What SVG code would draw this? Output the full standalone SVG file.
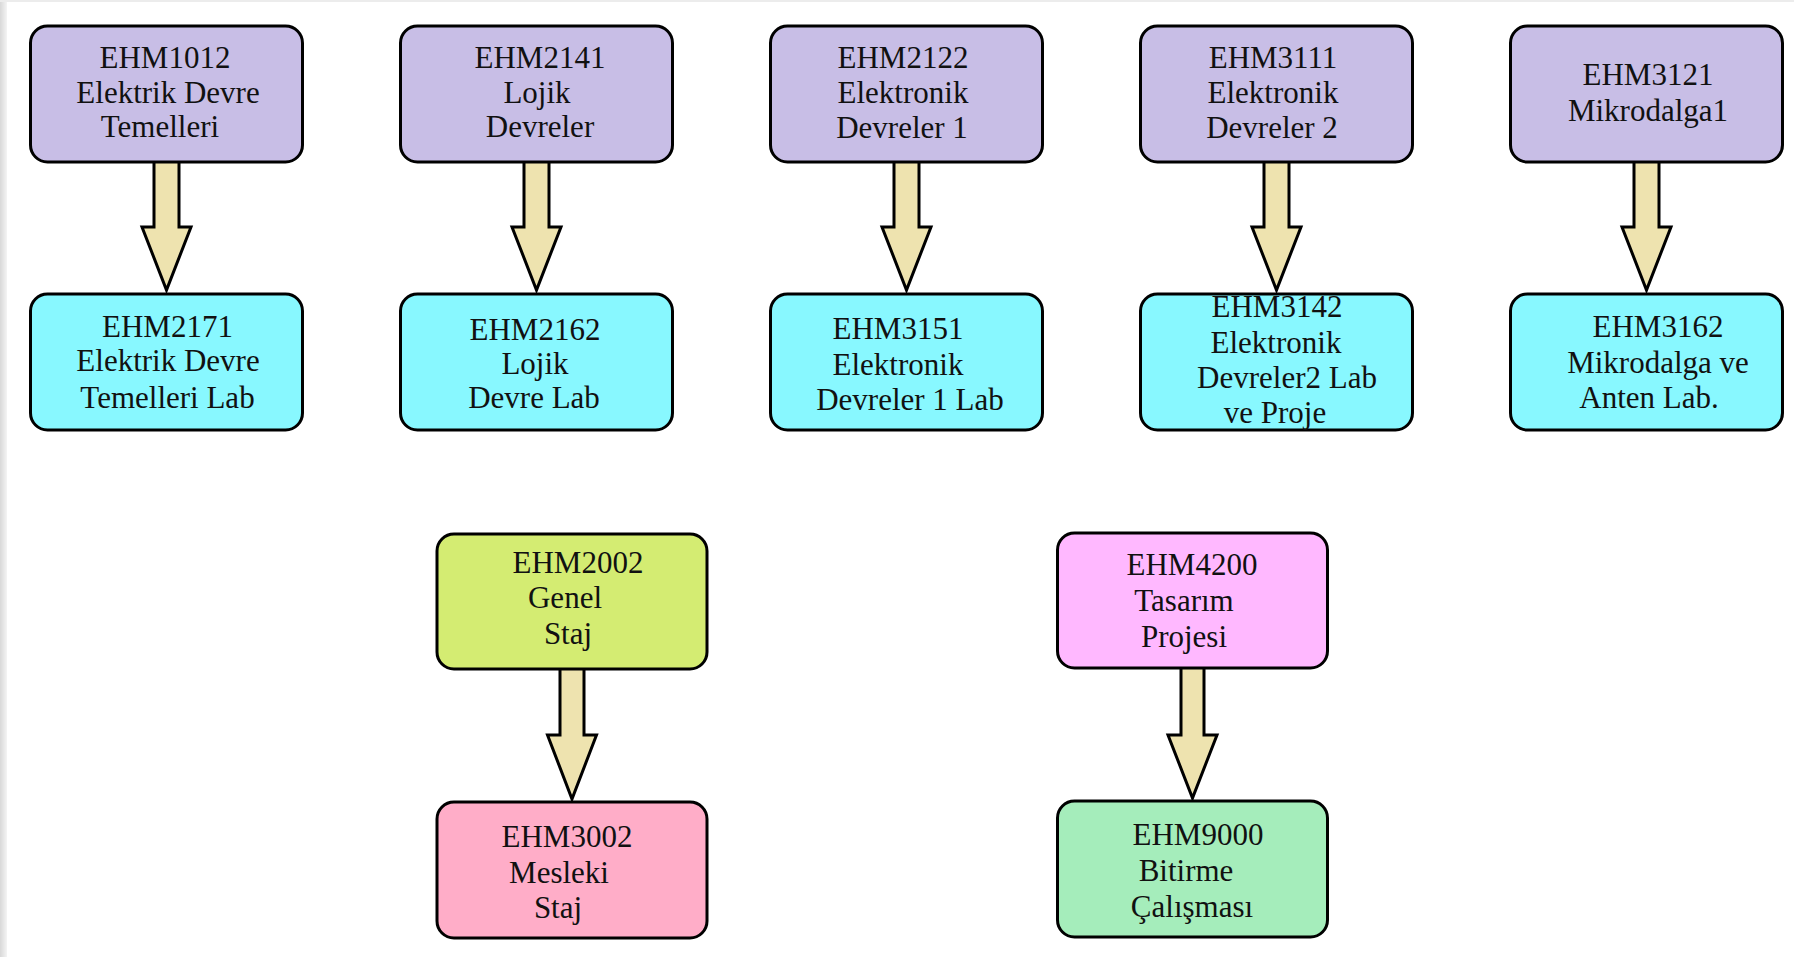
<svg xmlns="http://www.w3.org/2000/svg" width="1794" height="957" viewBox="0 0 1794 957">
<defs>
<linearGradient id="edge" x1="0" y1="0" x2="1" y2="0">
<stop offset="0" stop-color="#d8d8d8"/>
<stop offset="1" stop-color="#f4f4f4"/>
</linearGradient>
</defs>
<style>
.box{stroke:#000;stroke-width:3}
.lav{fill:#C8BEE6}.cyan{fill:#88F8FF}.yg{fill:#D4EC72}.pink{fill:#FFADC8}.mag{fill:#FFB8FF}.mint{fill:#A5EDBB}
.arr{fill:#EEE3AF;stroke:#000;stroke-width:3;stroke-linejoin:miter}
text{font-family:"Liberation Serif","Times New Roman",serif;font-size:31px;fill:#111;text-anchor:middle}
</style>
<rect x="0" y="0" width="1794" height="957" fill="#fff"/>
<rect x="0" y="0" width="7" height="957" fill="url(#edge)"/>
<rect x="0" y="0" width="1794" height="2" fill="#ececec"/>
<g id="connectors">
<polygon class="arr" points="154,160 179,160 179,227 191,227 166.5,290 142,227 154,227"/>
<polygon class="arr" points="524,160 549,160 549,227 561,227 536.5,290 512,227 524,227"/>
<polygon class="arr" points="894,160 919,160 919,227 931,227 906.5,290 882,227 894,227"/>
<polygon class="arr" points="1264,160 1289,160 1289,227 1301,227 1276.5,290 1252,227 1264,227"/>
<polygon class="arr" points="1634,160 1659,160 1659,227 1671,227 1646.5,290 1622,227 1634,227"/>
<polygon class="arr" points="560,667 584,667 584,735 596.5,735 572,799 547.5,735 560,735"/>
<polygon class="arr" points="1181,666 1204,666 1204,735 1217,735 1192.5,798 1168,735 1181,735"/>
</g>
<g id="n_ehm1012"><rect class="box lav" x="30.5" y="26" width="272" height="136" rx="17"/>
<text x="165" y="68">EHM1012</text><text x="168" y="103">Elektrik Devre</text><text x="160" y="137">Temelleri</text></g>
<g id="n_ehm2141"><rect class="box lav" x="400.5" y="26" width="272" height="136" rx="17"/>
<text x="540" y="68">EHM2141</text><text x="537" y="103">Lojik</text><text x="540" y="137">Devreler</text></g>
<g id="n_ehm2122"><rect class="box lav" x="770.5" y="26" width="272" height="136" rx="17"/>
<text x="903" y="68">EHM2122</text><text x="903" y="103">Elektronik</text><text x="902" y="138">Devreler 1</text></g>
<g id="n_ehm3111"><rect class="box lav" x="1140.5" y="26" width="272" height="136" rx="17"/>
<text x="1273" y="68">EHM3111</text><text x="1273" y="103">Elektronik</text><text x="1272" y="138">Devreler 2</text></g>
<g id="n_ehm3121"><rect class="box lav" x="1510.5" y="26" width="272" height="136" rx="17"/>
<text x="1648" y="85">EHM3121</text><text x="1648" y="121">Mikrodalga1</text></g>
<g id="n_ehm2171"><rect class="box cyan" x="30.5" y="294" width="272" height="136" rx="17"/>
<text x="167.5" y="337">EHM2171</text><text x="168" y="371">Elektrik Devre</text><text x="167.5" y="408">Temelleri Lab</text></g>
<g id="n_ehm2162"><rect class="box cyan" x="400.5" y="294" width="272" height="136" rx="17"/>
<text x="535" y="340">EHM2162</text><text x="535" y="374">Lojik</text><text x="534" y="408">Devre Lab</text></g>
<g id="n_ehm3151"><rect class="box cyan" x="770.5" y="294" width="272" height="136" rx="17"/>
<text x="898" y="339">EHM3151</text><text x="898" y="375">Elektronik</text><text x="910" y="410">Devreler 1 Lab</text></g>
<g id="n_ehm3142"><rect class="box cyan" x="1140.5" y="294" width="272" height="136" rx="17"/>
<text x="1277" y="317">EHM3142</text><text x="1276" y="353">Elektronik</text><text x="1287" y="388">Devreler2 Lab</text><text x="1275" y="423">ve Proje</text></g>
<g id="n_ehm3162"><rect class="box cyan" x="1510.5" y="294" width="272" height="136" rx="17"/>
<text x="1658" y="337">EHM3162</text><text x="1658" y="373">Mikrodalga ve</text><text x="1649" y="408">Anten Lab.</text></g>
<g id="n_ehm2002"><rect class="box yg" x="437" y="534" width="270" height="135" rx="17"/>
<text x="578" y="573">EHM2002</text><text x="565" y="608">Genel</text><text x="568" y="644">Staj</text></g>
<g id="n_ehm3002"><rect class="box pink" x="437" y="802" width="270" height="136" rx="17"/>
<text x="567" y="847">EHM3002</text><text x="559" y="883">Mesleki</text><text x="558" y="918">Staj</text></g>
<g id="n_ehm4200"><rect class="box mag" x="1057.5" y="533" width="270" height="135" rx="17"/>
<text x="1192" y="575">EHM4200</text><text x="1184" y="611">Tasarım</text><text x="1184" y="647">Projesi</text></g>
<g id="n_ehm9000"><rect class="box mint" x="1057.5" y="801" width="270" height="136" rx="17"/>
<text x="1198" y="845">EHM9000</text><text x="1186" y="881">Bitirme</text><text x="1192" y="917">Çalışması</text></g>
</svg>
